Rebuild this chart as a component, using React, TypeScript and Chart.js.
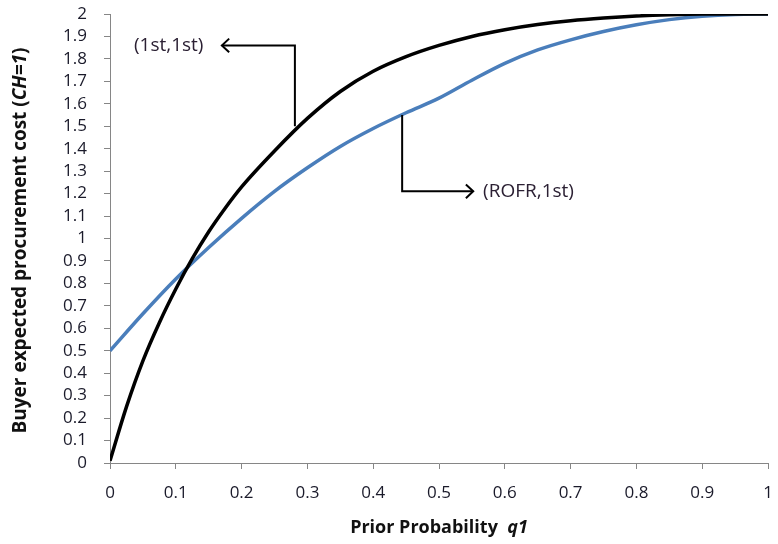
import React, { useEffect, useRef } from "react";
import { Chart, registerables } from "chart.js";

Chart.register(...registerables);

// ---- data ----
const qBlack = [0, 0.025, 0.05, 0.075, 0.1, 0.125, 0.15, 0.175, 0.2, 0.25, 0.3, 0.35, 0.4, 0.45, 0.5, 0.55, 0.6, 0.65, 0.7, 0.75, 0.8, 0.85, 0.9, 0.95, 1];
const costBlack = [0.01, 0.25, 0.455, 0.625, 0.775, 0.91, 1.03, 1.135, 1.23, 1.39, 1.535, 1.655, 1.745, 1.81, 1.86, 1.9, 1.93, 1.953, 1.97, 1.982, 1.991, 1.997, 2, 2, 2];

const qBlue = [0, 0.05, 0.1, 0.15, 0.2, 0.25, 0.3, 0.35, 0.4, 0.45, 0.5, 0.55, 0.6, 0.65, 0.7, 0.75, 0.8, 0.85, 0.9, 0.95, 1];
const costBlue = [0.5, 0.665, 0.82, 0.96, 1.09, 1.21, 1.315, 1.41, 1.49, 1.56, 1.625, 1.705, 1.78, 1.84, 1.885, 1.922, 1.952, 1.975, 1.99, 1.998, 2];

const xMin = 0;
const xMax = 1;
const xStep = 0.1;
const yMin = 0;
const yMax = 2;
const yStep = 0.1;

const xTitleText = "Prior Probability  ";
const xTitleVar = "q1";
const yTitleText = "Buyer expected procurement cost (";
const yTitleVar = "CH=1";
const yTitleEnd = ")";

const labelBlack = "(1st,1st)";
const labelBlue = "(ROFR,1st)";

// annotation anchor points, in data units [q, cost]
const arrowBlackPath = [[0.281, 1.5], [0.281, 1.86], [0.17, 1.86]];
const arrowBluePath = [[0.444, 1.55], [0.444, 1.21], [0.552, 1.21]];
const labelBlackAnchor = [0.142, 1.86]; // right end of text
const labelBlueAnchor = [0.567, 1.21]; // left end of text

const FONT = "'Open Sans', 'Liberation Sans', sans-serif";

function fmt(v: number) {
  return String(Number(v.toFixed(1)));
}

export default function App() {
  const ref = useRef<HTMLCanvasElement | null>(null);

  useEffect(() => {
    document.body.style.margin = "0";
    const canvas = ref.current;
    if (!canvas) return;

    const overlay = {
      id: "overlay",
      afterDraw(chart: any) {
        const ctx = chart.ctx as CanvasRenderingContext2D;
        const xs = chart.scales.x;
        const ys = chart.scales.y;
        const ca = chart.chartArea;
        const px = (p: number[]) => [xs.getPixelForValue(p[0]), ys.getPixelForValue(p[1])];

        ctx.save();
        const drawArrow = (path: number[][]) => {
          const pts = path.map(px);
          ctx.strokeStyle = "#000";
          ctx.lineWidth = 2;
          ctx.lineJoin = "miter";
          ctx.beginPath();
          ctx.moveTo(pts[0][0], pts[0][1]);
          for (let i = 1; i < pts.length; i++) ctx.lineTo(pts[i][0], pts[i][1]);
          ctx.stroke();
          const a = pts[pts.length - 2];
          const b = pts[pts.length - 1];
          const ang = Math.atan2(b[1] - a[1], b[0] - a[0]);
          const len = 10;
          const spread = 0.75;
          ctx.beginPath();
          ctx.moveTo(b[0] - len * Math.cos(ang - spread), b[1] - len * Math.sin(ang - spread));
          ctx.lineTo(b[0], b[1]);
          ctx.lineTo(b[0] - len * Math.cos(ang + spread), b[1] - len * Math.sin(ang + spread));
          ctx.stroke();
        };
        drawArrow(arrowBlackPath);
        drawArrow(arrowBluePath);

        ctx.fillStyle = "#2b2033";
        ctx.font = `19px ${FONT}`;
        ctx.textBaseline = "middle";
        const lb = px(labelBlackAnchor);
        ctx.textAlign = "right";
        ctx.fillText(labelBlack, lb[0], lb[1]);
        const lu = px(labelBlueAnchor);
        ctx.textAlign = "left";
        ctx.fillText(labelBlue, lu[0], lu[1]);

        // x title
        ctx.fillStyle = "#111";
        ctx.textAlign = "left";
        const fBx = `bold 18px ${FONT}`;
        const fBIx = `italic bold 18px ${FONT}`;
        ctx.font = fBx;
        const w1 = ctx.measureText(xTitleText).width;
        ctx.font = fBIx;
        const w2 = ctx.measureText(xTitleVar).width;
        const cx = (ca.left + ca.right) / 2;
        const xty = chart.height - 16;
        const sx = cx - (w1 + w2) / 2;
        ctx.font = fBx;
        ctx.fillText(xTitleText, sx, xty);
        ctx.font = fBIx;
        ctx.fillText(xTitleVar, sx + w1, xty);

        // y title rotated
        const fBy = `bold 19px ${FONT}`;
        const fBIy = `italic bold 19px ${FONT}`;
        ctx.font = fBy;
        const a1 = ctx.measureText(yTitleText).width;
        const a3 = ctx.measureText(yTitleEnd).width;
        ctx.font = fBIy;
        const a2 = ctx.measureText(yTitleVar).width;
        const total = a1 + a2 + a3;
        const cy = (ca.top + ca.bottom) / 2 + 2;
        ctx.translate(21, cy);
        ctx.rotate(-Math.PI / 2);
        const s = -total / 2;
        ctx.font = fBy;
        ctx.fillText(yTitleText, s, 0);
        ctx.font = fBIy;
        ctx.fillText(yTitleVar, s + a1, 0);
        ctx.font = fBy;
        ctx.fillText(yTitleEnd, s + a1 + a2, 0);
        ctx.restore();
      },
    };

    const chart = new Chart(canvas, {
      type: "line",
      data: {
        datasets: [
          {
            label: "(1st,1st)",
            data: qBlack.map((q, i) => ({ x: q, y: costBlack[i] })),
            borderColor: "#000000",
            borderWidth: 3.5,
            pointRadius: 0,
            cubicInterpolationMode: "monotone",
            fill: false,
          },
          {
            label: "(ROFR,1st)",
            data: qBlue.map((q, i) => ({ x: q, y: costBlue[i] })),
            borderColor: "#4a7ebb",
            borderWidth: 3.5,
            pointRadius: 0,
            cubicInterpolationMode: "monotone",
            fill: false,
          },
        ],
      },
      options: {
        animation: false,
        responsive: true,
        maintainAspectRatio: false,
        layout: { padding: { top: 14, right: 10, left: 0, bottom: 0 } },
        plugins: {
          legend: { display: false },
          tooltip: { enabled: false },
          title: { display: false },
        },
        scales: {
          x: {
            type: "linear",
            min: xMin,
            max: xMax,
            afterFit: (s: any) => {
              s.height = 81;
              s.paddingLeft = 0;
              s.paddingRight = 0;
            },
            border: { color: "#868686", width: 1 },
            grid: { drawOnChartArea: false, color: "#868686", tickLength: 6 },
            ticks: {
              stepSize: xStep,
              autoSkip: false,
              maxRotation: 0,
              padding: 14,
              color: "#1a1a2a",
              font: { family: FONT, size: 17 },
              callback: (v: any) => fmt(Number(v)),
            },
          },
          y: {
            type: "linear",
            min: yMin,
            max: yMax,
            afterFit: (s: any) => {
              s.width = 110;
              s.paddingTop = 0;
              s.paddingBottom = 0;
            },
            border: { color: "#868686", width: 1 },
            grid: { drawOnChartArea: false, color: "#868686", tickLength: 6 },
            ticks: {
              stepSize: yStep,
              autoSkip: false,
              padding: 17,
              color: "#1a1a2a",
              font: { family: FONT, size: 17 },
              callback: (v: any) => fmt(Number(v)),
            },
          },
        },
      },
      plugins: [overlay],
    } as any);

    return () => chart.destroy();
  }, []);

  return (
    <div style={{ width: 778, height: 544, position: "relative" }}>
      <canvas ref={ref} />
    </div>
  );
}
